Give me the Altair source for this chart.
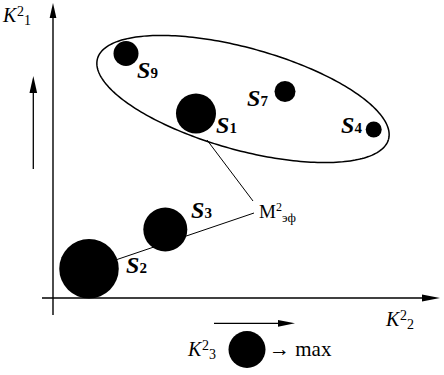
import altair as alt
import pandas as pd
import numpy as np

# ---- data (coordinates: origin at the axes' intersection, y upwards) ----
sub_digits = ["9", "1", "7", "4", "3", "2"]
pt_x = [73, 143, 232, 320.7, 112.3, 36]
pt_y = [244.5, 184.5, 206.5, 168.5, 68.5, 29.3]
pt_diam = [25, 40, 21, 16, 44, 59.5]
lab_x = [84, 163, 194, 288, 138, 73]
lab_y = [220, 165, 192, 165, 80, 25]

legend_x = [194]
legend_y = [-51.5]
legend_diam = [37]

# ellipse M2 (center, semi-axes, rotation in degrees)
ell_cx, ell_cy, ell_a, ell_b, ell_angle = 190, 199, 151, 51, -15.5

# straight segments: axes, small arrows, connectors
seg_x = [0, -11, -19.7, 161, 154, 39]
seg_y = [-17, 0, 129, -25.3, 158, 30]
seg_x2 = [0, 372, -19.7, 228, 200, 201]
seg_y2 = [288, 0, 213, -25.3, 97, 85]
seg_w = [1.4, 1.4, 1.3, 1.3, 1.0, 1.0]

# arrow heads
up_x = [0, -19.7]
up_y = [287.5, 213.5]
up_len = [15, 17]
right_x = [378, 233.5]
right_y = [0, -25.3]
right_len = [18, 17]

# K labels
k_x = [-50, 333, 135]
k_y = [276, -28, -58]
k_sup = ["2", "2", "2"]
k_sub = ["1", "2", "3"]

FONT = "'Liberation Serif', 'Times New Roman', serif"

XS = alt.Scale(domain=[-53, 391], nice=False, zero=False)
YS = alt.Scale(domain=[-77, 298], nice=False, zero=False)


def xy(xf="x", yf="y"):
    return dict(x=alt.X(f"{xf}:Q", scale=XS, axis=None),
                y=alt.Y(f"{yf}:Q", scale=YS, axis=None))


# ellipse outline
t = np.linspace(0, 2 * np.pi, 241)
th = np.radians(ell_angle)
ell = pd.DataFrame({
    "i": np.arange(len(t)),
    "x": ell_cx + ell_a * np.cos(t) * np.cos(th) - ell_b * np.sin(t) * np.sin(th),
    "y": ell_cy + ell_a * np.cos(t) * np.sin(th) + ell_b * np.sin(t) * np.cos(th),
})
ellipse = alt.Chart(ell).mark_line(color="black", strokeWidth=1.5).encode(
    **xy(), order="i:Q")

segs = pd.DataFrame({"x": seg_x, "y": seg_y, "x2": seg_x2, "y2": seg_y2, "w": seg_w})
rules = alt.Chart(segs).mark_rule(color="black").encode(
    **xy(), x2="x2:Q", y2="y2:Q",
    strokeWidth=alt.StrokeWidth("w:Q", scale=None))

ups = pd.DataFrame({"x": up_x, "y": up_y, "s": [v * v for v in up_len]})
up_heads = alt.Chart(ups).mark_point(
    shape="M0,-1L0.45,1L-0.45,1Z", filled=True, color="black", opacity=1, strokeWidth=0
).encode(**xy(), size=alt.Size("s:Q", scale=None))

rights = pd.DataFrame({"x": right_x, "y": right_y, "s": [v * v for v in right_len]})
right_heads = alt.Chart(rights).mark_point(
    shape="M1,0L-1,0.4L-1,-0.4Z", filled=True, color="black", opacity=1, strokeWidth=0
).encode(**xy(), size=alt.Size("s:Q", scale=None))

pts = pd.DataFrame({
    "x": pt_x + legend_x, "y": pt_y + legend_y,
    "s": [d * d for d in pt_diam + legend_diam]})
circles = alt.Chart(pts).mark_circle(color="black", opacity=1).encode(
    **xy(), size=alt.Size("s:Q", scale=None))

labs = pd.DataFrame({"x": lab_x, "y": lab_y, "sub": sub_digits})
s_text = alt.Chart(labs).mark_text(
    text="S", font=FONT, fontSize=24, fontStyle="italic", fontWeight="bold",
    align="left", baseline="alphabetic", color="black").encode(**xy())
s_sub = alt.Chart(labs).mark_text(
    font=FONT, fontSize=15, fontWeight="bold", align="left", baseline="alphabetic",
    dx=13.5, color="black").encode(**xy(), text="sub:N")

ks = pd.DataFrame({"x": k_x, "y": k_y, "sup": k_sup, "sub": k_sub})
k_text = alt.Chart(ks).mark_text(
    text="K", font=FONT, fontSize=20, fontStyle="italic", align="left",
    baseline="alphabetic", color="black").encode(**xy())
k_sup_t = alt.Chart(ks).mark_text(
    font=FONT, fontSize=14, align="left", baseline="alphabetic",
    dx=14, dy=-6, color="black").encode(**xy(), text="sup:N")
k_sub_t = alt.Chart(ks).mark_text(
    font=FONT, fontSize=14, align="left", baseline="alphabetic",
    dx=21, dy=3, color="black").encode(**xy(), text="sub:N")

m_df = pd.DataFrame({"x": [206], "y": [80]})
m_text = alt.Chart(m_df).mark_text(
    text="M", font=FONT, fontSize=19, align="left", baseline="alphabetic",
    color="black").encode(**xy())
m_sup = alt.Chart(m_df).mark_text(
    text="2", font=FONT, fontSize=12, align="left", baseline="alphabetic",
    dx=17, dy=-7.5, color="black").encode(**xy())
m_sub = alt.Chart(m_df).mark_text(
    text="эф", font=FONT, fontSize=13, align="left", baseline="alphabetic",
    dx=23, dy=3.5, color="black").encode(**xy())

max_df = pd.DataFrame({"x": [216], "y": [-58]})
max_text = alt.Chart(max_df).mark_text(
    text="→ max", font=FONT, fontSize=21, align="left", baseline="alphabetic",
    color="black").encode(**xy())

chart = alt.layer(
    ellipse, rules, up_heads, right_heads, circles,
    s_text, s_sub, k_text, k_sup_t, k_sub_t, m_text, m_sup, m_sub, max_text
).properties(
    width=444, height=375, padding=0,
    autosize=alt.AutoSizeParams(type="none"),
    background="white"
).configure_view(stroke=None)

chart.save("out.html", embed_options={"renderer": "svg", "actions": False})
